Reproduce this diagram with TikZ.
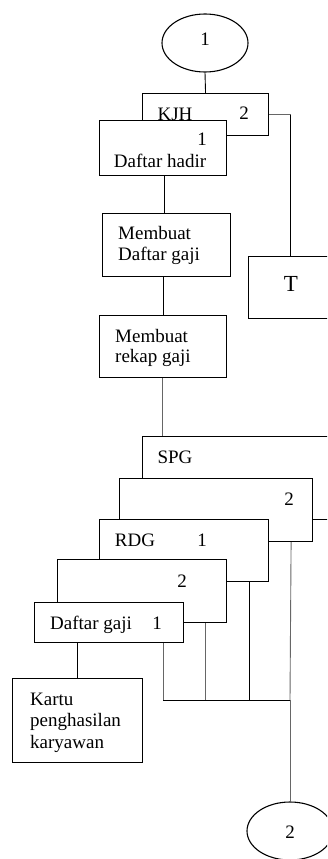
\documentclass[tikz,border=0pt]{standalone}
\usepackage{fontspec}
\setmainfont{Liberation Serif}
\usetikzlibrary{shapes.geometric}
\begin{document}
\begin{tikzpicture}[x=1pt,y=-1pt,
 box/.style={draw, line width=1.1pt, fill=white, inner sep=0pt, anchor=north west},
 oval/.style={draw, ellipse, line width=1.1pt, fill=white, minimum width=86pt, minimum height=58pt, inner sep=0pt},
 lbl/.style={inner sep=0pt, font=\fontsize{19}{22}\selectfont, anchor=base},
 lbw/.style={lbl, anchor=base west},
 ln/.style={line width=0.9pt},
 lg/.style={line width=0.9pt, black!60}]
\useasboundingbox (0,0) rectangle (327,859);
\clip (0,0) rectangle (327,859);
% top connector
\node[oval] (c1) at (205,43) {};
\node[lbl] (c1t) at (205,46) {1};
% KJH / Daftar hadir stack
\node[box, minimum width=126pt, minimum height=42pt] (kjh) at (142,93) {};
\node[lbl] (kjht) at (175,120) {KJH};
\node[lbl] (kjhn) at (244,119) {2};
\node[box, minimum width=127pt, minimum height=55pt] (dh) at (99,120) {};
\node[lbl] (dhn) at (202,145) {1};
\node[lbl] (dht) at (160,167) {Daftar hadir};
% process boxes
\node[box, minimum width=128pt, minimum height=63pt] (mdg) at (102,213) {};
\node[lbw] (mdg1) at (118,239) {Membuat};
\node[lbw] (mdg2) at (118,260) {Daftar gaji};
\node[box, minimum width=127pt, minimum height=62pt] (mrg) at (99,315) {};
\node[lbw] (mrg1) at (115,342) {Membuat};
\node[lbw] (mrg2) at (115,362) {rekap gaji};
% T
\node[box, minimum width=84pt, minimum height=62pt] (t) at (248,256) {};
\node[lbl, font=\fontsize{23}{26}\selectfont] (tt) at (291,291) {T};
% output stack
\node[box, minimum width=190pt, minimum height=83pt] (spg) at (142,436) {};
\node[lbl] (spgt) at (175,463) {SPG};
\node[box, minimum width=193pt, minimum height=63pt] (b2) at (119,478) {};
\node[lbl] (b2n) at (289,505) {2};
\node[box, minimum width=169pt, minimum height=62pt] (rdg) at (99,519) {};
\node[lbl] (rdgt) at (135,546) {RDG};
\node[lbl] (rdgn) at (202,546) {1};
\node[box, minimum width=169pt, minimum height=63pt] (b4) at (57,559) {};
\node[lbl] (b4n) at (182,587) {2};
\node[box, minimum width=149pt, minimum height=40pt] (dg) at (34,602) {};
\node[lbl] (dgt) at (91,629) {Daftar gaji};
\node[lbl] (dgn) at (157,629) {1};
% Kartu
\node[box, minimum width=130pt, minimum height=84pt] (kp) at (12,678) {};
\node[lbw] (kp1) at (30,705) {Kartu};
\node[lbw] (kp2) at (30,726) {penghasilan};
\node[lbw] (kp3) at (30,748) {karyawan};
% bottom connector
\node[oval] (c2) at (290,831) {};
\node[lbl] (c2t) at (290,838) {2};
\coordinate (j) at (290,700);
% connectors
\draw[ln] (c1.south) -- (kjh.north);
\draw[lg] (kjh.east) -- (t.north |- kjh.east);
\draw[ln] (t.north |- kjh.east) -- (t.north);
\draw[ln] (dh.south -| 164,0) -- (mdg.north -| 164,0);
\draw[ln] (mdg.south -| 163,0) -- (mrg.north -| 163,0);
\draw[lg] (mrg.south -| 162,0) -- (spg.north -| 162,0);
\draw[ln] (dg.south -| 77,0) -- (kp.north -| 77,0);
\draw[lg] ([xshift=-21pt]dg.south east) -- ([xshift=-21pt]dg.south east |- j);
\draw[lg] ([xshift=-22pt]b4.south east) -- ([xshift=-22pt]b4.south east |- j);
\draw[ln] ([xshift=-20pt]rdg.south east) -- ([xshift=-20pt]rdg.south east |- j);
\draw[lg] ([xshift=-22pt]b2.south east) -- (j);
\draw[ln] ([xshift=-21pt]dg.south east |- j) -- (j);
\draw[lg] (j) -- (c2.north);
\end{tikzpicture}
\end{document}
